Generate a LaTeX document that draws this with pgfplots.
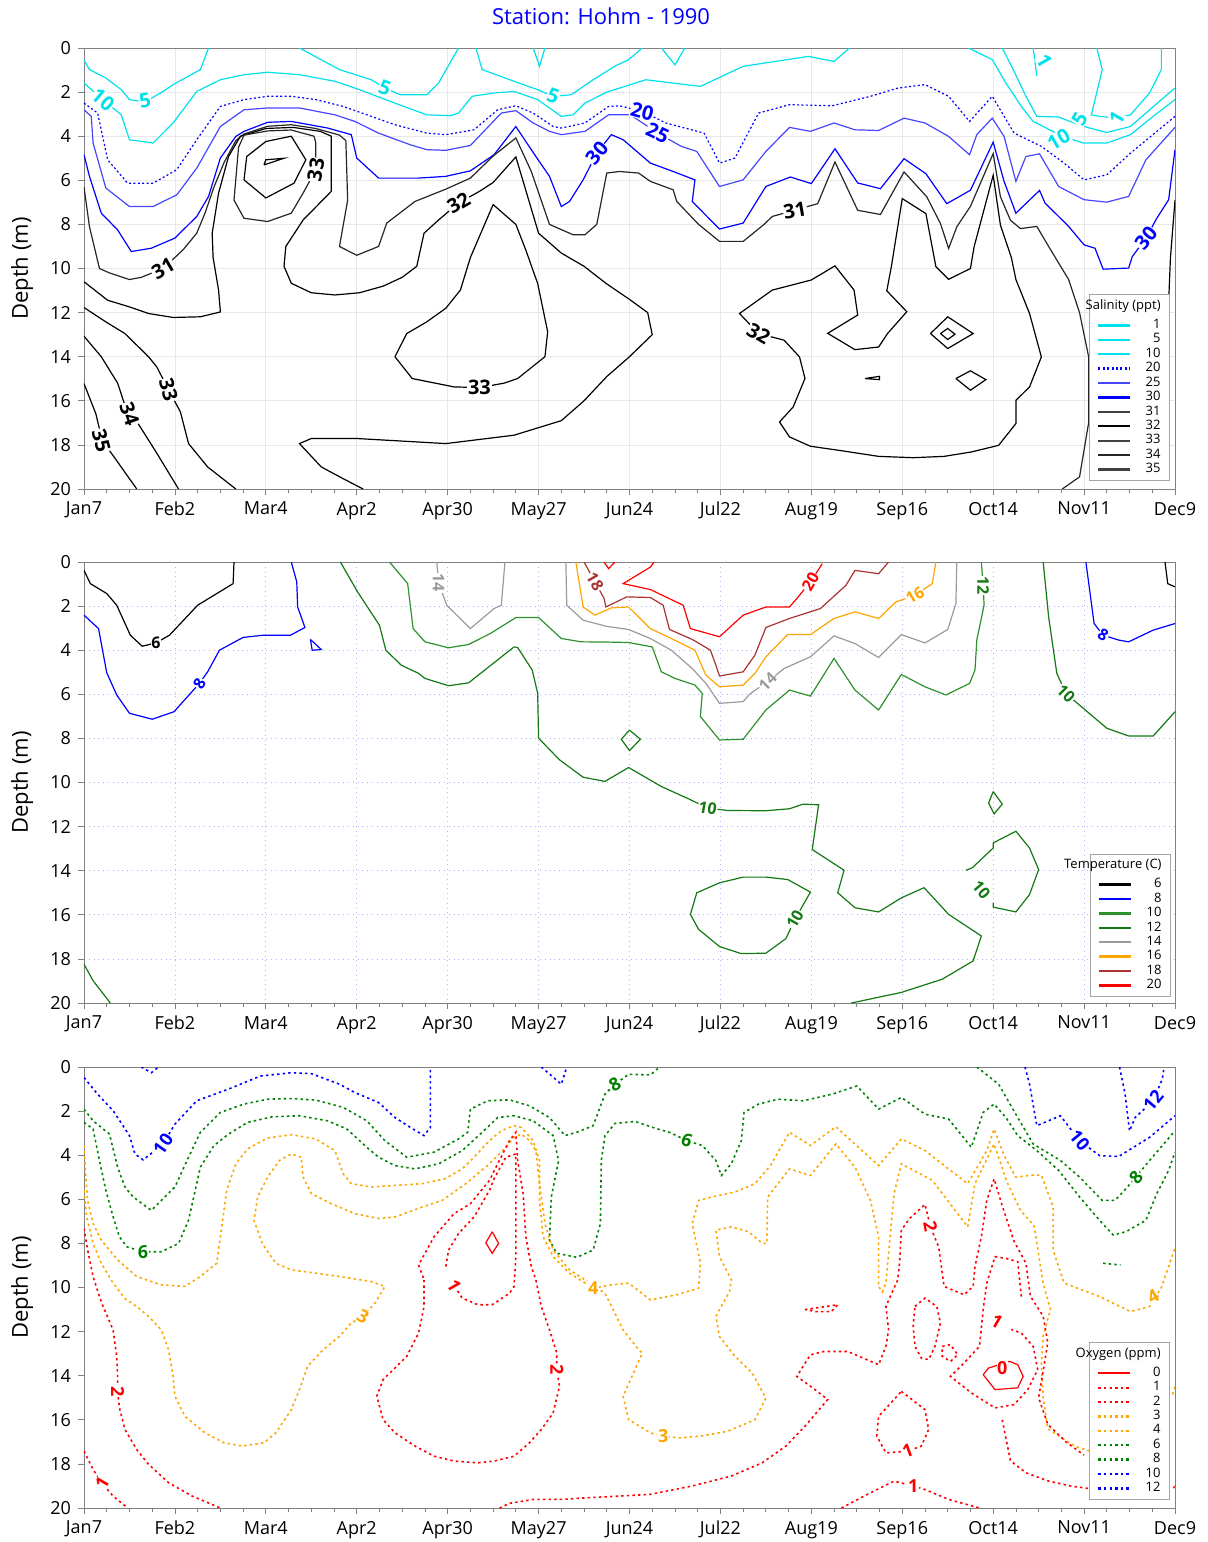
\documentclass[border=0pt]{standalone}
\usepackage{fontspec}
\setmainfont{Open Sans}
\usepackage{pgfplots}
\pgfplotsset{compat=1.18}
\definecolor{scyan}{RGB}{0,225,235}
\definecolor{sblue}{RGB}{0,0,255}
\definecolor{sblueL}{RGB}{70,70,255}
\definecolor{tgreenA}{RGB}{20,120,20}
\definecolor{tgreenB}{RGB}{45,145,45}
\definecolor{tgray}{RGB}{155,155,155}
\definecolor{torange}{RGB}{255,165,0}
\definecolor{tbrown}{RGB}{170,50,50}
\definecolor{ogreen}{RGB}{0,128,0}
\tikzset{
  cl/.style={line width=0.6pt},
  lab/.style={font=\bfseries\fontsize{10}{10}\selectfont,fill=white,inner sep=0.3pt},
  lab2/.style={font=\bfseries\fontsize{8}{8}\selectfont,fill=white,inner sep=0.3pt},
  lab3/.style={font=\bfseries\fontsize{9}{9}\selectfont,fill=white,inner sep=0.3pt},
  dots/.style={line width=0.8pt,dash pattern=on 1.2pt off 1.6pt},
}
\begin{document}
\begin{tikzpicture}
\pgfplotsset{
  panel/.style={width=545.5pt,height=220.5pt,scale only axis,
    xmin=0,xmax=12,ymin=0,ymax=20,y dir=reverse,
    xtick={0,...,12},
    xticklabels={Jan7,Feb2,Mar4,Apr2,Apr30,May27,Jun24,Jul22,Aug19,Sep16,Oct14,Nov11,Dec9},
    ytick={0,2,...,20}, minor x tick num=3, tick align=outside, tick pos=left,
    major tick length=3pt, minor tick length=2pt,
    axis line style={gray}, every tick/.style={gray},
    /pgf/number format/assume math mode=true,
    tick label style={font=\fontsize{9}{10}\selectfont},
    every axis y label/.style={at={(axis description cs:-0.0568,0.5)},rotate=90,anchor=center,font=\fontsize{11}{12}\selectfont},
    ylabel={Depth (m)},
    legend image code/.code={\draw[##1,line width=1.1pt] (0pt,0pt) -- (16pt,0pt);},
    legend cell align=right,
    legend style={draw=gray!70,font=\fontsize{6.5}{7.5}\selectfont,inner xsep=4pt,inner ysep=2pt,
       nodes={inner sep=0.5pt}, anchor=north east},
  },
}
\path[use as bounding box] (-42pt,24pt) rectangle (561.5pt,-747pt);
\node[text=sblue,font=\fontsize{11}{13}\selectfont] at (258.5pt,16pt) {Station: Hohm - 1990};

% ================= PANEL 1 : SALINITY =================
\begin{axis}[panel, at={(0pt,0pt)}, anchor=north west,
  grid=major, major grid style={gray!18},
  legend style={at={(0.9954,0.442)}}]
\addlegendimage{empty legend}\addlegendentry{\makebox[14pt][r]{Salinity (ppt)}}
\addlegendimage{empty legend}\addlegendentry{}
\addlegendimage{scyan}\addlegendentry{1}
\addlegendimage{scyan}\addlegendentry{5}
\addlegendimage{scyan}\addlegendentry{10}
\addlegendimage{sblue,dash pattern=on 1pt off 1.2pt}\addlegendentry{20}
\addlegendimage{sblueL}\addlegendentry{25}
\addlegendimage{sblue}\addlegendentry{30}
\addlegendimage{black!75}\addlegendentry{31}
\addlegendimage{black}\addlegendentry{32}
\addlegendimage{black!75}\addlegendentry{33}
\addlegendimage{black!85}\addlegendentry{34}
\addlegendimage{black!75}\addlegendentry{35}
% cyan
\addplot[scyan,cl,forget plot] coordinates {(0,0.53) (0.06,0.98) (0.24,1.36) (0.41,1.89) (0.5,2.34) (0.67,2.45) (0.87,1.97) (0.98,1.66) (1.28,0.98) (1.37,0)};
\addplot[scyan,cl,forget plot] coordinates {(0,1.59) (0.21,2.35) (0.41,3.03) (0.5,4.16) (0.76,4.31) (0.98,3.4) (1.24,1.97) (1.5,1.44) (1.76,1.21) (2.02,1.1) (2.37,1.21) (2.76,1.51) (3.03,1.89) (3.42,2.5) (3.77,3.03) (4.03,3.07) (4.12,2.95) (4.27,2.19) (4.51,2.04) (4.73,1.97) (4.99,2.34) (5.25,3.1) (5.38,3.03) (5.51,2.5) (5.75,2.0) (6.18,1.44) (6.78,1.74) (7.25,0.83) (7.97,0.38) (8.25,0.61) (8.42,0)};
\addplot[scyan,cl,forget plot] coordinates {(2.37,0) (2.81,0.98) (3.16,1.44) (3.31,1.82) (3.48,2.12) (3.77,2.12) (3.9,1.59) (4.12,0)};
\addplot[scyan,cl,forget plot] coordinates {(4.31,0) (4.38,0.98) (4.73,1.51) (4.99,1.89) (5.16,2.19) (5.36,2.12) (5.6,1.44) (5.85,0.8) (5.99,0.53) (6.14,0)};
\addplot[scyan,cl,forget plot] coordinates {(4.94,0) (5.01,0.83) (5.07,0)};
\addplot[scyan,cl,forget plot] coordinates {(6.35,0) (6.5,0.76) (6.61,0)};
\addplot[scyan,cl,forget plot] coordinates {(10.44,0) (10.48,1.26)};
\addplot[scyan,cl,forget plot] coordinates {(11.14,0) (11.2,0.98) (11.08,3.03) (11.17,3.1) (11.36,3.18) (11.51,3.03) (11.72,2.04) (11.85,0.98) (11.85,0)};
\addplot[scyan,cl,forget plot] coordinates {(10.1,0) (10.23,1.06) (10.36,2.19) (10.48,3.1) (10.72,3.13) (10.89,3.4) (11.06,3.63) (11.25,3.83) (11.51,3.56) (11.85,2.34) (12.0,1.82)};
\addplot[scyan,cl,forget plot] coordinates {(9.73,0) (9.99,0.53) (10.14,1.59) (10.31,2.65) (10.44,3.33) (10.76,4.0) (10.99,4.31) (11.25,4.31) (11.51,3.93) (11.76,3.1) (12.0,2.34)};
% blue 20 dotted
\addplot[sblue,cl,dash pattern=on 1pt off 1.2pt,forget plot] coordinates {(0,2.5) (0.15,2.95) (0.26,5.07) (0.48,6.13) (0.76,6.13) (1.02,5.52) (1.24,4.16) (1.5,2.65) (1.76,2.34) (2.02,2.19) (2.28,2.19) (2.55,2.34) (2.85,2.65) (3.16,3.1) (3.42,3.48) (3.77,3.86) (3.98,3.93) (4.29,3.71) (4.55,2.8) (4.75,2.62) (4.94,2.95) (5.16,3.56) (5.25,3.63) (5.51,3.4) (5.77,2.65) (5.89,2.62) (6.14,2.87) (6.4,3.4) (6.82,3.86) (6.99,5.22) (7.16,4.99) (7.42,2.95) (7.76,2.57) (8.23,2.62) (8.65,2.19) (8.95,1.82) (9.25,1.66) (9.51,2.19) (9.74,3.33) (9.99,2.19) (10.23,3.86) (10.53,4.46) (10.78,5.22) (11.0,5.98) (11.25,5.75) (11.51,4.77) (12.0,3.1)};
% blue 25
\addplot[sblueL,cl,forget plot] coordinates {(0,2.8) (0.08,3.1) (0.1,4.31) (0.24,6.35) (0.5,7.19) (0.76,7.19) (1.02,6.66) (1.24,5.45) (1.5,3.56) (1.76,2.8) (2.02,2.72) (2.37,2.72) (2.76,3.03) (2.98,3.33) (3.24,3.86) (3.59,4.39) (3.77,4.61) (3.98,4.64) (4.25,4.42) (4.59,2.95) (4.75,2.84) (4.94,3.4) (5.12,3.78) (5.25,3.93) (5.51,3.78) (5.77,3.03) (6.01,3.03) (6.31,3.86) (6.57,4.46) (6.74,4.69) (6.99,6.28) (7.25,5.98) (7.5,4.69) (7.76,3.6) (7.99,3.78) (8.25,3.4) (8.48,3.71) (8.74,3.74) (9.02,3.18) (9.25,3.4) (9.51,4.01) (9.74,4.84) (9.82,3.93) (9.99,3.18) (10.12,4.01) (10.25,6.05) (10.36,4.92) (10.51,4.8) (10.72,6.28) (11.0,6.88) (11.25,6.99) (11.49,6.73) (11.68,5.07) (12.0,3.6)};
% blue 30
\addplot[sblue,cl,forget plot] coordinates {(0,4.84) (0.06,5.82) (0.19,7.49) (0.37,8.25) (0.52,9.23) (0.74,9.08) (1.0,8.62) (1.24,7.64) (1.37,6.73) (1.5,4.99) (1.67,4.01) (1.76,3.78) (2.02,3.37) (2.28,3.33) (2.68,3.63) (2.94,3.93) (3.0,4.99) (3.24,5.9) (3.68,5.9) (3.98,5.82) (4.25,5.57) (4.51,4.84) (4.75,3.56) (4.97,4.92) (5.12,5.82) (5.25,7.19) (5.34,6.96) (5.49,5.98) (5.64,4.77) (5.8,3.93) (5.93,4.16) (6.23,5.22) (6.48,5.6) (6.72,5.98) (6.69,6.96) (6.99,8.21) (7.25,7.94) (7.5,6.28) (7.77,5.85) (8.0,6.15) (8.26,4.57) (8.51,6.12) (8.76,6.38) (9.02,5.02) (9.26,5.7) (9.49,7.06) (9.75,6.45) (10.0,4.27) (10.12,6.05) (10.25,7.49) (10.51,6.46) (10.57,7.03) (10.83,8.09) (11.0,8.93) (11.12,9.08) (11.21,10.03) (11.49,9.98) (11.53,9.46) (11.68,8.62) (11.8,7.72) (11.93,6.88) (12.0,4.61)};
% black 31
\addplot[black!85,cl,forget plot] coordinates {(0,6.3) (0.06,8.1) (0.17,10.0) (0.28,10.2) (0.5,10.5) (0.63,10.4) (0.87,10.0) (1.09,9.15) (1.24,8.4) (1.33,7.5) (1.43,6.3) (1.54,5.2) (1.67,4.2) (1.76,3.9) (2.02,3.55) (2.28,3.48) (2.55,3.65) (2.81,3.95) (2.88,4.2) (2.9,6.9) (2.81,9.0) (3.0,9.4) (3.24,9.0) (3.33,7.94) (3.64,6.96) (3.98,6.4) (4.25,5.9) (4.5,4.9) (4.75,4.08) (4.92,5.6) (5.12,8.0) (5.38,8.47) (5.51,8.47) (5.64,8.0) (5.75,5.67) (5.89,5.6) (6.10,5.67) (6.23,6.05) (6.48,6.43) (6.52,6.96) (6.76,8.0) (6.99,8.77) (7.25,8.77) (7.48,8.0) (7.57,7.64) (7.82,7.35) (8.07,7.06) (8.26,5.17) (8.51,7.36) (8.76,7.55) (9.02,5.62) (9.27,6.75) (9.42,7.96) (9.51,9.09) (9.6,8.11) (9.75,7.18) (10.0,4.79) (10.08,6.75) (10.19,7.81) (10.3,8.19) (10.48,8.09) (10.61,9.0) (10.83,10.5) (10.95,12.0) (11.05,14.0) (11.05,17.0) (10.95,19.45) (10.76,20)};
% black 32
\addplot[black,cl,forget plot] coordinates {(0,10.6) (0.26,11.44) (0.5,11.74) (0.71,12.04) (0.98,12.22) (1.28,12.19) (1.5,11.97) (1.48,10.98) (1.42,9.5) (1.41,8.4) (1.48,6.58) (1.59,4.92) (1.72,4.0) (2.0,3.65) (2.3,3.6) (2.6,3.78) (2.72,4.0) (2.72,6.5) (2.41,7.8) (2.22,9.0) (2.2,9.9) (2.28,10.67) (2.5,11.1) (2.76,11.2) (3.03,11.1) (3.29,10.8) (3.5,10.4) (3.66,9.9) (3.74,8.4) (3.9,7.8) (4.12,7.03) (4.35,6.5) (4.5,6.1) (4.75,4.94) (5.0,8.4) (5.25,9.3) (5.5,9.9) (5.75,10.7) (6.0,11.4) (6.2,12.0) (6.25,13.0) (6.0,14.0) (5.75,14.9) (5.5,16.0) (5.25,16.9) (4.73,17.56) (3.98,17.94) (3.0,17.71) (2.5,17.71) (2.37,17.94) (2.61,19.0) (2.85,19.53) (3.07,20.0)};
% hump inner loops
\addplot[black!85,cl,forget plot] coordinates {(1.7,4.5) (1.65,6.9) (1.76,7.72) (2.02,7.87) (2.28,7.49) (2.41,6.58) (2.55,5.52) (2.55,4.3) (2.53,4.0) (2.28,3.72) (2.02,3.76) (1.76,3.95) (1.7,4.5)};
\addplot[black,cl,forget plot] coordinates {(1.76,5.98) (2.0,6.8) (2.31,6.13) (2.44,5.07) (2.28,4.0) (2.0,4.24) (1.79,4.92) (1.76,5.98)};
\addplot[black,cl,forget plot] coordinates {(1.98,5.3) (2.2,5.0) (2.0,5.07) (1.98,5.3)};
% Apr30 loop
\addplot[black,cl,forget plot] coordinates {(3.42,14.0) (3.55,12.95) (3.77,12.42) (3.98,11.8) (4.14,10.98) (4.25,9.5) (4.5,7.1) (4.75,8.0) (4.86,9.17) (4.99,10.68) (5.1,12.87) (5.07,14.0) (4.77,14.99) (4.62,15.2) (4.35,15.4) (4.07,15.37) (3.61,14.99) (3.42,14.0)};
% bottom-left 33,34,35
\addplot[black,cl,forget plot] coordinates {(0,11.77) (0.24,12.42) (0.45,12.95) (0.71,14.0) (0.8,14.46) (0.93,15.5) (1.06,16.5) (1.15,17.94) (1.36,19.0) (1.67,20.0)};
\addplot[black,cl,forget plot] coordinates {(0,13.07) (0.19,14.0) (0.37,15.2) (0.45,16.2) (0.61,17.13) (0.8,18.37) (1.04,20.0)};
\addplot[black,cl,forget plot] coordinates {(0,15.22) (0.13,16.58) (0.2,17.8) (0.34,18.6) (0.58,20.0)};
% Sep16 big loop
\addplot[black,cl,forget plot] coordinates {(7.42,12.95) (7.21,12.04) (7.57,10.98) (8.0,10.52) (8.26,9.88) (8.47,10.98) (8.51,12.11) (8.18,12.94) (8.48,13.68) (8.74,13.56) (8.84,12.94) (9.05,11.96) (8.83,11.01) (8.88,9.92) (9.0,6.83) (9.26,7.51) (9.37,9.92) (9.51,10.49) (9.75,10.0) (9.79,9.02) (10.0,5.77) (10.08,8.04) (10.2,9.5) (10.25,10.5) (10.4,12.04) (10.46,12.95) (10.53,14.01) (10.4,15.37) (10.25,15.98) (10.25,17.03) (10.06,18.02) (9.76,18.32) (9.46,18.52) (9.12,18.58) (8.74,18.52) (8.31,18.25) (7.99,18.06) (7.76,17.64) (7.65,16.96) (7.8,16.28) (7.93,14.99) (7.87,14.01) (7.7,13.25) (7.42,12.95)};
\addplot[black,cl,forget plot] coordinates {(12.0,6.9) (11.95,9.5) (11.93,11.5) (11.9,14.0)};
\addplot[black,cl,forget plot] coordinates {(9.31,12.95) (9.5,12.19) (9.78,12.95) (9.5,13.63) (9.31,12.95)};
\addplot[black,cl,forget plot] coordinates {(9.42,12.95) (9.5,12.72) (9.58,12.98) (9.5,13.22) (9.42,12.95)};
\addplot[black,cl,forget plot] coordinates {(9.59,14.99) (9.75,14.64) (9.92,15.04) (9.75,15.52) (9.59,14.99)};
\addplot[black,cl,forget plot] coordinates {(8.59,14.99) (8.75,14.89) (8.75,15.04) (8.59,14.99)};
% labels
\node[lab,text=scyan,rotate=-40] at (axis cs:0.21,2.35) {10};
\node[lab,text=scyan,rotate=10] at (axis cs:0.67,2.4) {5};
\node[lab,text=scyan,rotate=-20] at (axis cs:3.31,1.82) {5};
\node[lab,text=scyan,rotate=-20] at (axis cs:5.16,2.19) {5};
\node[lab,text=scyan,rotate=-60] at (axis cs:10.56,0.6) {1};
\node[lab,text=scyan,rotate=60] at (axis cs:10.95,3.2) {5};
\node[lab,text=scyan,rotate=30] at (axis cs:10.72,4.15) {10};
\node[lab,text=scyan,rotate=60] at (axis cs:11.36,3.18) {1};
\node[lab,text=sblue,rotate=-15] at (axis cs:6.14,2.87) {20};
\node[lab,text=sblue,rotate=-25] at (axis cs:6.31,3.86) {25};
\node[lab,text=sblue,rotate=50] at (axis cs:5.64,4.77) {30};
\node[lab,text=sblue,rotate=50] at (axis cs:11.68,8.62) {30};
\node[lab,rotate=30] at (axis cs:0.87,10.0) {31};
\node[lab,rotate=80] at (axis cs:2.55,5.52) {33};
\node[lab,rotate=30] at (axis cs:4.12,7.03) {32};
\node[lab,rotate=10] at (axis cs:7.82,7.35) {31};
\node[lab,rotate=-30] at (axis cs:7.42,12.95) {32};
\node[lab,rotate=-75] at (axis cs:0.93,15.5) {33};
\node[lab,rotate=-70] at (axis cs:0.5,16.6) {34};
\node[lab,rotate=-75] at (axis cs:0.19,17.8) {35};
\node[lab] at (axis cs:4.35,15.4) {33};
\end{axis}

% ================= PANEL 2 : TEMPERATURE =================
\begin{axis}[panel, at={(0pt,-257pt)}, anchor=north west,
  grid=major, major grid style={sblue!30,dotted},
  legend style={at={(0.9963,0.0136)},anchor=south east}]
\addlegendimage{empty legend}\addlegendentry{\makebox[14pt][r]{Temperature (C)}}
\addlegendimage{empty legend}\addlegendentry{}
\addlegendimage{black}\addlegendentry{6}
\addlegendimage{sblue}\addlegendentry{8}
\addlegendimage{tgreenB}\addlegendentry{10}
\addlegendimage{tgreenA}\addlegendentry{12}
\addlegendimage{tgray}\addlegendentry{14}
\addlegendimage{torange}\addlegendentry{16}
\addlegendimage{tbrown}\addlegendentry{18}
\addlegendimage{red}\addlegendentry{20}
% 6
\addplot[black,cl,forget plot] coordinates {(0,0.38) (0.07,0.98) (0.25,1.43) (0.36,1.96) (0.51,3.32) (0.64,3.82) (0.79,3.67) (0.94,3.32) (1.25,1.96) (1.64,0.98) (1.65,0)};
\addplot[black,cl,forget plot] coordinates {(11.89,0) (11.92,0.98) (12.0,1.13)};
% 8
\addplot[sblue,cl,forget plot] coordinates {(0,2.41) (0.16,3.02) (0.25,5.02) (0.36,6.03) (0.5,6.86) (0.75,7.13) (0.99,6.79) (1.27,5.5) (1.36,4.98) (1.49,4.0) (1.75,3.42) (1.97,3.32) (2.27,3.32) (2.43,2.97) (2.35,2.04) (2.34,0.9) (2.28,0)};
\addplot[sblue,cl,forget plot] coordinates {(2.49,3.51) (2.61,3.97) (2.51,4.0) (2.49,3.51)};
\addplot[sblue,cl,forget plot] coordinates {(11.02,0) (11.11,2.79) (11.21,3.32) (11.38,3.54) (11.49,3.62) (11.76,3.09) (12.0,2.79)};
% 10
\addplot[tgreenA,cl,forget plot] coordinates {(2.82,0) (3.01,1.36) (3.25,2.87) (3.32,4.0) (3.49,4.68) (3.68,5.05) (3.75,5.28) (4.01,5.61) (4.23,5.48) (4.73,3.85) (4.77,3.88) (4.93,4.9) (4.99,5.96) (5.0,7.99) (5.23,8.97) (5.49,9.76) (5.73,9.95) (5.99,9.32) (6.35,10.18) (6.67,10.78) (6.86,11.16) (7.08,11.27) (7.5,11.28) (7.76,11.19) (7.91,10.98) (8.08,11.01) (8.01,13.04) (8.36,13.98) (8.29,15.0) (8.48,15.68) (8.74,15.87) (8.99,15.23) (9.24,14.77) (9.51,15.98) (9.87,16.96) (9.78,18.09) (9.44,18.92) (8.99,19.52) (8.44,20.0)};
\addplot[tgreenA,cl,forget plot] coordinates {(7.82,16.2) (7.72,17.08) (7.5,17.74) (7.23,17.76) (6.99,17.44) (6.76,16.66) (6.67,15.98) (6.74,15.0) (6.99,14.55) (7.25,14.29) (7.5,14.29) (7.74,14.4) (7.99,14.97) (7.82,16.2)};
\addplot[tgreenA,cl,forget plot] coordinates {(9.7,13.98) (9.77,13.87) (10.0,12.97) (10.0,12.74) (10.25,12.21) (10.4,12.97) (10.5,13.95) (10.4,15.08) (10.25,15.87) (10.0,15.65) (10.0,15.45)};
\addplot[tgreenA,cl,forget plot] coordinates {(10.0,10.41) (10.1,10.98) (10.01,11.42) (9.95,10.93) (10.0,10.41)};
\addplot[tgreenA,cl,forget plot] coordinates {(6.0,7.62) (6.12,8.04) (6.0,8.55) (5.91,8.04) (6.0,7.62)};
\addplot[tgreenA,cl,forget plot] coordinates {(10.55,0) (10.61,2.49) (10.7,5.05) (10.8,5.96) (10.95,6.49) (11.25,7.54) (11.49,7.89) (11.76,7.89) (12.0,6.79)};
\addplot[tgreenA,cl,forget plot] coordinates {(0,18.24) (0.1,18.99) (0.29,20.0)};
% 12
\addplot[tgreenB,cl,forget plot] coordinates {(3.36,0) (3.56,0.98) (3.62,3.02) (3.75,3.62) (4.01,3.89) (4.23,3.74) (4.47,3.24) (4.75,2.52) (5.0,2.52) (5.25,3.47) (5.47,3.62) (5.75,3.63) (5.99,3.65) (6.25,3.85) (6.35,4.98) (6.5,5.28) (6.72,5.58) (6.8,5.96) (6.78,7.01) (6.99,8.07) (7.25,8.04) (7.5,6.71) (7.76,5.81) (7.99,6.08) (8.25,4.37) (8.48,5.81) (8.74,6.71) (8.99,5.1) (9.25,5.66) (9.48,6.03) (9.74,5.51) (9.8,4.9) (9.82,3.54) (9.9,1.96) (9.89,1.06) (9.87,0)};
% 14
\addplot[tgray,cl,forget plot] coordinates {(3.88,0) (3.9,0.95) (3.99,1.96) (4.25,3.02) (4.51,2.11) (4.59,1.96) (4.63,0)};
\addplot[tgray,cl,forget plot] coordinates {(5.3,0) (5.31,1.96) (5.49,2.64) (5.75,2.92) (5.99,3.06) (6.23,3.47) (6.46,4.0) (6.69,4.83) (6.84,5.5) (6.99,6.41) (7.25,6.33) (7.33,5.96) (7.52,5.43) (7.7,4.83) (7.99,4.3) (8.25,3.35) (8.48,3.7) (8.74,4.33) (8.99,3.29) (9.25,3.67) (9.5,3.06) (9.59,1.89) (9.6,0)};
% 16
\addplot[torange,cl,forget plot] coordinates {(5.41,0) (5.49,2.04) (5.62,2.41) (5.8,2.08) (5.99,2.04) (6.23,3.02) (6.46,3.47) (6.72,4.0) (6.84,5.13) (6.99,5.66) (7.25,5.58) (7.38,5.05) (7.5,4.3) (7.74,3.29) (7.99,3.29) (8.25,2.56) (8.48,2.26) (8.74,2.56) (8.93,1.81) (9.14,1.51) (9.33,0.98) (9.37,0)};
% 18
\addplot[tbrown,cl,forget plot] coordinates {(5.5,0) (5.62,0.9) (5.72,1.65) (5.74,2.04) (5.97,1.58) (6.23,1.61) (6.37,1.96) (6.44,3.06) (6.69,3.51) (6.89,4.0) (6.95,4.68) (6.99,5.17) (7.25,4.98) (7.38,4.22) (7.5,2.97) (7.76,2.56) (8.1,2.11) (8.38,1.06) (8.48,0.38) (8.74,0.53) (8.85,0)};
% 20
\addplot[red,cl,forget plot] coordinates {(5.72,0) (5.77,0.3) (5.84,0)};
\addplot[red,cl,forget plot] coordinates {(6.27,0) (6.23,0.23) (5.93,0.98) (6.23,1.25) (6.59,1.96) (6.67,3.02) (6.99,3.39) (7.25,2.41) (7.5,2.04) (7.76,2.04) (7.84,1.66) (7.99,0.9) (8.12,0.08)};
% labels
\node[lab2,rotate=0] at (axis cs:0.79,3.67) {6};
\node[lab2,text=sblue,rotate=60] at (axis cs:1.27,5.5) {8};
\node[lab2,text=tgray,rotate=-90] at (axis cs:3.9,0.95) {14};
\node[lab2,text=tbrown,rotate=-60] at (axis cs:5.62,0.9) {18};
\node[lab2,text=red,rotate=60] at (axis cs:7.99,0.9) {20};
\node[lab2,text=torange,rotate=30] at (axis cs:9.14,1.51) {16};
\node[lab2,text=tgreenA,rotate=-90] at (axis cs:9.89,1.06) {12};
\node[lab2,text=tgray,rotate=45] at (axis cs:7.52,5.43) {14};
\node[lab2,text=sblue,rotate=-30] at (axis cs:11.21,3.32) {8};
\node[lab2,text=tgreenA,rotate=-45] at (axis cs:10.8,5.96) {10};
\node[lab2,text=tgreenA,rotate=-10] at (axis cs:6.86,11.16) {10};
\node[lab2,text=tgreenA,rotate=60] at (axis cs:7.82,16.2) {10};
\node[lab2,text=tgreenA,rotate=-50] at (axis cs:9.87,14.85) {10};
\end{axis}

% ================= PANEL 3 : OXYGEN =================
\begin{axis}[panel, at={(0pt,-509.5pt)}, anchor=north west,
  legend style={at={(0.9954,0.0181)},anchor=south east}]
\addlegendimage{empty legend}\addlegendentry{\makebox[14pt][r]{Oxygen (ppm)}}
\addlegendimage{empty legend}\addlegendentry{}
\addlegendimage{red}\addlegendentry{0}
\addlegendimage{red,dash pattern=on 1.2pt off 1.6pt}\addlegendentry{1}
\addlegendimage{red,dash pattern=on 1.2pt off 1.6pt}\addlegendentry{2}
\addlegendimage{torange,dash pattern=on 1.2pt off 1.6pt}\addlegendentry{3}
\addlegendimage{torange,dash pattern=on 1.2pt off 1.6pt}\addlegendentry{4}
\addlegendimage{ogreen,dash pattern=on 1.2pt off 1.6pt}\addlegendentry{6}
\addlegendimage{ogreen,dash pattern=on 1.2pt off 1.6pt}\addlegendentry{8}
\addlegendimage{sblue,dash pattern=on 1.2pt off 1.6pt}\addlegendentry{10}
\addlegendimage{sblue,dash pattern=on 1.2pt off 1.6pt}\addlegendentry{12}
% 10, 12 blue
\addplot[sblue,dots,forget plot] coordinates {(0,0.48) (0.15,1.23) (0.32,1.98) (0.5,3.11) (0.56,3.94) (0.65,4.21) (0.87,3.49) (1.0,2.59) (1.24,1.53) (1.59,1.0) (1.94,0.41) (2.28,0.26) (2.5,0.3) (2.81,0.78) (2.98,1.16) (3.24,1.61) (3.42,2.29) (3.59,2.74) (3.74,3.11) (3.81,2.74) (3.81,0)};
\addplot[sblue,dots,forget plot] coordinates {(0.63,0) (0.74,0.26) (0.82,0)};
\addplot[sblue,dots,forget plot] coordinates {(5.03,0) (5.25,0.78) (5.31,0)};
\addplot[sblue,dots,forget plot] coordinates {(10.35,0) (10.4,0.78) (10.48,2.66) (10.74,2.21) (10.95,3.34) (11.17,4.02) (11.38,4.06) (11.72,3.19) (12.0,2.21)};
\addplot[sblue,dots,forget plot] coordinates {(11.39,0) (11.45,1.2) (11.5,2.9) (11.56,2.3) (11.76,1.53) (11.86,0.55) (11.88,0)};
% 8 green
\addplot[ogreen,dots,forget plot] coordinates {(0,1.91) (0.1,2.44) (0.28,3.04) (0.37,4.54) (0.45,5.44) (0.54,5.89) (0.74,6.5) (0.89,5.89) (1.0,5.44) (1.15,4.09) (1.28,2.96) (1.5,2.06) (1.76,1.68) (2.02,1.46) (2.28,1.43) (2.55,1.5) (2.85,1.83) (3.11,2.44) (3.31,3.34) (3.55,4.09) (3.85,3.86) (4.12,3.26) (4.22,2.96) (4.25,1.91) (4.44,1.53) (4.68,1.49) (4.9,1.76) (5.12,2.29) (5.29,3.11) (5.42,2.96) (5.6,2.66) (5.73,1.23) (5.84,0.78) (5.99,0.33) (6.23,0.36) (6.33,0)};
\addplot[ogreen,dots,forget plot] coordinates {(9.82,0) (10.06,0.78) (10.27,2.29) (10.44,3.49) (10.74,4.24) (10.95,4.99) (11.2,6.05) (11.34,6.05) (11.46,5.52) (11.57,4.99) (11.72,4.24) (12.0,2.89)};
% 6 green
\addplot[ogreen,dots,forget plot] coordinates {(0,2.51) (0.1,2.81) (0.17,4.24) (0.24,5.59) (0.32,6.8) (0.39,7.7) (0.47,8.15) (0.65,8.38) (0.85,8.38) (1.04,8.0) (1.15,6.95) (1.28,4.54) (1.43,3.56) (1.59,3.04) (1.8,2.51) (2.07,2.26) (2.37,2.21) (2.68,2.44) (2.89,2.81) (3.11,3.64) (3.24,4.09) (3.42,4.47) (3.64,4.62) (3.9,4.39) (4.16,3.79) (4.38,2.96) (4.55,2.29) (4.73,2.21) (4.94,2.44) (5.16,3.11) (5.22,4.24) (5.14,5.89) (5.12,7.85) (5.2,8.45) (5.42,8.63) (5.6,8.3) (5.68,7.1) (5.69,4.24) (5.73,3.11) (5.84,2.56) (6.06,2.47) (6.31,2.81) (6.44,2.96) (6.63,3.34) (6.8,3.56) (6.95,4.24) (7.01,4.92) (7.12,4.39) (7.23,3.34) (7.26,2.06) (7.42,1.68) (7.63,1.46) (7.91,1.53) (8.23,1.23) (8.5,0.86) (8.74,1.91) (8.99,1.38) (9.25,2.14) (9.51,2.36) (9.76,3.64) (9.89,2.06) (10.01,1.68) (10.14,2.29) (10.27,3.11) (10.48,3.79) (10.72,4.69) (10.95,5.89) (11.17,6.95) (11.32,7.62) (11.46,7.47) (11.68,6.95) (11.8,5.74) (11.93,4.69) (12.0,3.86)};
\addplot[ogreen,dots,forget plot] coordinates {(11.21,8.9) (11.4,8.98)};
% 4 orange
\addplot[torange,dots,forget plot] coordinates {(0,3.56) (0.02,4.99) (0.04,6.05) (0.1,7.1) (0.19,7.85) (0.37,8.75) (0.58,9.5) (0.85,9.88) (1.11,9.95) (1.28,9.5) (1.46,8.9) (1.52,7.1) (1.57,5.59) (1.67,4.39) (1.8,3.71) (2.02,3.22) (2.28,3.07) (2.55,3.26) (2.76,3.79) (2.85,4.84) (2.94,5.29) (3.16,5.44) (3.42,5.37) (3.72,5.29) (3.97,5.07) (4.16,4.62) (4.29,4.09) (4.46,3.34) (4.59,2.89) (4.73,2.66) (4.81,2.74) (4.94,3.34) (5.01,4.24) (5.01,6.05) (5.05,7.7) (5.16,8.6) (5.34,9.35) (5.6,10.03) (5.8,9.88) (5.99,9.8) (6.23,10.56) (6.52,10.33) (6.76,10.03) (6.78,8.9) (6.69,7.1) (6.76,6.05) (6.91,5.89) (7.16,5.67) (7.38,5.29) (7.55,4.47) (7.76,2.96) (7.99,3.56) (8.27,2.71) (8.74,4.47) (8.99,3.26) (9.25,3.79) (9.72,5.29) (9.93,3.79) (10.01,2.81) (10.12,4.0) (10.25,5.0) (10.42,4.9) (10.53,4.9) (10.66,6.35) (10.66,8.3) (10.78,9.8) (11.17,10.41) (11.51,11.09) (11.72,10.86) (11.85,10.0) (12.0,8.2)};
% 3 orange
\addplot[torange,dots,forget plot] coordinates {(0,5.59) (0.03,6.8) (0.1,8.0) (0.19,8.9) (0.32,9.8) (0.45,10.5) (0.58,10.86) (0.71,11.31) (0.85,11.92) (0.93,12.82) (0.98,14.03) (1.0,14.93) (1.11,15.84) (1.33,16.59) (1.54,17.04) (1.74,17.19) (1.98,17.04) (2.11,16.59) (2.28,15.54) (2.37,14.63) (2.46,13.57) (2.63,12.82) (2.81,12.22) (2.94,11.61) (3.07,11.31) (3.2,10.71) (3.31,9.95) (3.16,9.73) (2.81,9.5) (2.55,9.35) (2.28,9.2) (2.11,8.9) (1.96,8.0) (1.87,6.95) (1.91,5.89) (2.02,4.99) (2.15,4.24) (2.28,3.94) (2.39,4.09) (2.41,4.99) (2.5,5.74) (2.72,6.2) (2.98,6.65) (3.24,6.87) (3.42,6.8) (3.72,6.35) (3.94,6.05) (4.2,5.29) (4.46,4.39) (4.64,3.64) (4.73,3.19) (4.81,3.04) (4.9,3.34) (4.97,3.79) (5.01,5.29) (5.07,7.1) (5.16,8.3) (5.34,9.2) (5.51,9.65) (5.73,10.26) (5.93,11.92) (6.1,12.82) (6.14,12.97) (6.06,13.73) (5.93,14.93) (5.99,15.99) (6.23,16.59) (6.37,16.74) (6.55,16.82) (6.78,16.74) (7.08,16.52) (7.38,15.99) (7.5,15.01) (7.35,13.88) (7.16,13.12) (6.99,12.22) (6.95,11.31) (7.1,10.18) (7.12,9.65) (6.99,8.6) (6.95,7.4) (7.12,7.25) (7.31,7.47) (7.46,8.0) (7.51,8.0) (7.52,5.89) (7.76,4.62) (7.99,4.92) (8.27,3.49) (8.48,4.54) (8.65,6.05) (8.74,7.7) (8.74,9.95) (8.78,10.2) (8.82,9.8) (8.91,5.74) (8.99,4.39) (9.33,5.14) (9.72,7.25) (9.8,5.29) (10.01,3.49) (10.15,5.2) (10.3,6.5) (10.45,7.2) (10.5,8.5) (10.55,9.8) (10.63,11.0) (10.55,12.2) (10.53,13.5) (10.55,15.0) (10.6,16.4) (10.9,17.2) (11.2,17.6)};
\addplot[torange,dots,forget plot] coordinates {(12.0,14.5) (11.97,14.9)};
% red 2 / 1
\addplot[red,dots,forget plot] coordinates {(0,7.32) (0.04,8.3) (0.1,9.5) (0.17,10.41) (0.21,10.86) (0.32,11.92) (0.36,13.12) (0.37,14.03) (0.37,14.7) (0.39,15.46) (0.45,16.44) (0.58,17.35) (0.71,18.02) (0.93,18.85) (1.19,19.46) (1.5,20.0)};
\addplot[red,dots,forget plot] coordinates {(0,17.42) (0.1,18.25) (0.2,18.88) (0.32,19.46) (0.48,20.0)};
\addplot[red,dots,forget plot] coordinates {(3.74,9.65) (3.74,10.86) (3.68,12.07) (3.55,13.12) (3.29,14.18) (3.22,14.93) (3.29,15.99) (3.42,16.59) (3.64,17.19) (3.85,17.65) (4.07,17.87) (4.33,17.95) (4.51,17.87) (4.73,17.65) (4.9,17.04) (5.03,16.44) (5.16,15.69) (5.23,14.48) (5.2,13.73) (5.2,12.97) (5.12,11.92) (5.03,10.86) (4.97,9.65) (4.92,9.05) (4.86,7.7) (4.83,5.74) (4.77,4.24) (4.75,2.96) (4.68,3.34) (4.55,4.39) (4.46,5.14) (4.25,6.2) (4.07,6.65) (3.85,7.7) (3.68,8.98) (3.74,9.65)};
\addplot[red,dots,forget plot] coordinates {(3.98,9.05) (4.01,8.3) (4.12,7.55) (4.29,6.8) (4.46,5.59) (4.51,5.07) (4.64,4.09) (4.75,3.94) (4.75,6.65) (4.75,8.6) (4.73,9.95) (4.68,10.26) (4.49,10.78) (4.33,10.78) (4.16,10.48) (4.07,9.9)};
\addplot[red,cl,forget plot] coordinates {(4.49,7.47) (4.56,8.0) (4.49,8.45) (4.42,7.97) (4.49,7.47)};
\addplot[red,dots,forget plot] coordinates {(4.57,20) (4.68,19.79) (4.94,19.61) (5.25,19.61) (5.55,19.53) (5.89,19.46) (6.23,19.38) (6.69,19.0) (7.12,18.55) (7.46,17.95) (7.72,17.19) (7.93,16.29) (8.18,15.08) (8.04,14.63) (7.84,14.03) (7.99,13.05) (8.14,12.9) (8.4,12.9) (8.74,13.5) (8.82,12.67) (8.85,11.92) (8.82,10.86) (8.95,9.65) (8.97,8.9) (8.99,7.4) (9.08,6.87) (9.25,6.23) (9.31,7.25) (9.4,8.15) (9.46,9.95) (9.68,10.33) (9.78,9.95) (9.8,9.05) (9.87,7.7) (9.93,6.05) (10.01,5.07) (10.1,6.3) (10.23,7.9) (10.36,8.9) (10.41,10.4) (10.55,11.3) (10.6,12.5) (10.55,13.8) (10.5,15.0) (10.6,16.2) (10.8,17.0) (11.0,17.6)};
\addplot[red,dots,forget plot] coordinates {(10.31,10.41) (10.27,8.83) (10.14,8.68) (10.02,8.6) (9.93,9.8) (9.89,11.0) (9.85,12.67) (9.68,13.42) (9.53,14.03) (9.76,14.78) (10.02,15.46) (10.23,15.31) (10.38,14.63) (10.49,13.73) (10.44,12.67) (10.31,12.07) (10.2,11.9)};
\addplot[red,dots,forget plot] coordinates {(10.1,16.0) (10.19,17.86) (10.36,18.4) (10.61,18.78) (10.85,19.0) (11.2,19.2)};
\addplot[red,dots,forget plot] coordinates {(8.99,14.71) (9.25,15.54) (9.29,16.44) (9.21,17.19) (9.06,17.42) (8.82,17.5) (8.72,16.74) (8.74,15.84) (8.91,15.08) (8.99,14.71)};
\addplot[red,dots,forget plot] coordinates {(8.33,20.0) (8.65,19.31) (8.91,18.78) (9.12,19.0) (9.25,19.16) (9.51,19.61) (9.85,20.0)};
\addplot[red,dots,forget plot] coordinates {(9.14,10.86) (9.25,10.48) (9.38,10.86) (9.42,11.61) (9.36,12.67) (9.29,13.27) (9.21,13.2) (9.14,12.67) (9.12,11.76) (9.14,10.86)};
\addplot[red,dots,forget plot] coordinates {(9.44,12.67) (9.53,12.59) (9.61,13.05) (9.53,13.35) (9.44,13.12) (9.44,12.67)};
\addplot[red,cl,forget plot] coordinates {(9.89,13.95) (9.95,13.65) (10.18,13.35) (10.27,13.5) (10.33,14.03) (10.27,14.55) (10.02,14.63) (9.89,13.95)};
\addplot[red,dots,forget plot] coordinates {(7.93,11.0) (8.29,10.78) (8.22,11.09) (8.05,11.09) (7.93,11.0)};
\addplot[red,cl,forget plot] coordinates {(12.0,19.0) (11.98,19.1)};
% labels
\node[lab3,text=sblue,rotate=55] at (axis cs:0.87,3.49) {10};
\node[lab3,text=ogreen] at (axis cs:0.65,8.38) {6};
\node[lab3,text=ogreen,rotate=30] at (axis cs:5.84,0.78) {8};
\node[lab3,text=ogreen,rotate=-20] at (axis cs:6.63,3.34) {6};
\node[lab3,text=sblue,rotate=-50] at (axis cs:10.95,3.34) {10};
\node[lab3,text=sblue,rotate=50] at (axis cs:11.76,1.53) {12};
\node[lab3,text=ogreen,rotate=50] at (axis cs:11.57,4.99) {8};
\node[lab3,text=red,rotate=-60] at (axis cs:4.07,9.9) {1};
\node[lab3,text=torange] at (axis cs:5.6,10.03) {4};
\node[lab3,text=torange,rotate=-30] at (axis cs:3.07,11.31) {3};
\node[lab3,text=red,rotate=-90] at (axis cs:0.37,14.7) {2};
\node[lab3,text=red,rotate=60] at (axis cs:0.2,18.88) {1};
\node[lab3,text=red,rotate=-90] at (axis cs:5.2,13.73) {2};
\node[lab3,text=torange] at (axis cs:6.37,16.74) {3};
\node[lab3,text=red,rotate=-80] at (axis cs:9.31,7.25) {2};
\node[lab3,text=red,rotate=-30] at (axis cs:10.04,11.54) {1};
\node[lab3,text=red] at (axis cs:10.1,13.65) {0};
\node[lab3,text=red,rotate=20] at (axis cs:9.06,17.42) {1};
\node[lab3,text=red] at (axis cs:9.12,19.0) {1};
\node[lab3,text=torange,rotate=30] at (axis cs:11.76,10.41) {4};
\end{axis}
\end{tikzpicture}
\end{document}
